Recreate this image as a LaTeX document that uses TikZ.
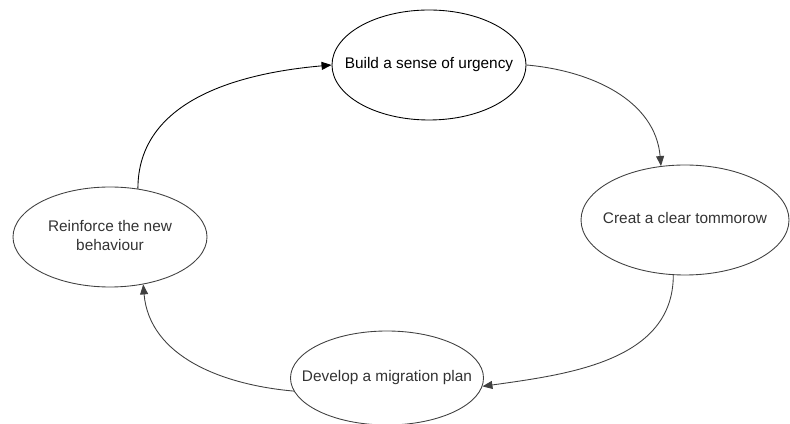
\documentclass[tikz,border=0pt]{standalone}
\usepackage{fontspec}
\setmainfont{Liberation Sans}
\usetikzlibrary{shapes.geometric, arrows.meta}

% text that does not widen its ellipse
\newcommand{\ovaltext}[1]{\makebox[0pt]{\begin{tabular}{@{}c@{}}#1\end{tabular}}}

\begin{document}
\begin{tikzpicture}[
    phase/.style={
        ellipse,
        draw=black!75,
        text=black!80,
        line width=0.5pt,
        inner sep=0pt,
        font=\fontsize{8.75}{11}\selectfont
    },
    link/.style={
        -{Triangle[length=2mm, width=1.6mm]},
        draw=black!75,
        line width=0.5pt
    }
]
    \useasboundingbox (0, 0) rectangle (15.8, 8.46);

    \node[
        phase,
        draw=black,
        text=black,
        minimum width=3.88cm,
        minimum height=2.2cm
    ] (urgency) at (8.58, 7.16) {\ovaltext{Build a sense of urgency}};

    \node[
        phase,
        minimum width=4.16cm,
        minimum height=2.2cm
    ] (tomorrow) at (13.7, 4.06) {\ovaltext{Creat a clear tommorow}};

    \node[
        phase,
        minimum width=3.86cm,
        minimum height=1.88cm
    ] (plan) at (7.74, 0.9) {\ovaltext{Develop a migration plan}};

    \node[
        phase,
        minimum width=3.88cm,
        minimum height=2.0cm
    ] (reinforce) at (2.2, 3.72) {\ovaltext{Reinforce the new\\behaviour}};

    \draw[link, draw=black] (reinforce.60) to[out=90, in=185] (urgency.west);
    \draw[link] (urgency.east) to[out=-5, in=95] (tomorrow.114);
    \draw[link] (tomorrow.258) to[out=-90, in=8] (plan.-5);
    \draw[link] (plan.188) to[out=175, in=-85] (reinforce.-55);

\end{tikzpicture}
\end{document}
